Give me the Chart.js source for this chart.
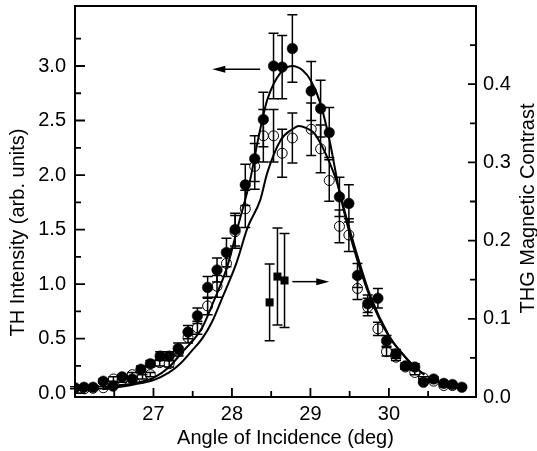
<!DOCTYPE html>
<html><head><meta charset="utf-8">
<script src="https://cdn.jsdelivr.net/npm/chart.js@4/dist/chart.umd.min.js"></script>
<style>html,body{margin:0;padding:0;background:#fff}</style>
</head><body>
<canvas id="c" width="537" height="451"></canvas>
<script>
// ---- data ----
const filledX = [26.00,26.115,26.23,26.36,26.485,26.60,26.73,26.84,26.96,27.085,27.20,27.315,27.44,27.56,27.69,27.81,27.93,28.04,28.17,28.29,28.40,28.53,28.64,28.77,29.01,29.13,29.24,29.37,29.49,29.60,29.73,29.86,29.97,30.09,30.21,30.33,30.44,30.57,30.70,30.81,30.93];
const filledY = [0.05,0.055,0.055,0.11,0.065,0.15,0.13,0.22,0.27,0.34,0.34,0.41,0.56,0.71,0.97,1.13,1.29,1.50,1.91,2.15,2.51,3.00,2.99,3.16,2.77,2.61,2.39,1.80,1.74,1.08,0.82,0.87,0.48,0.36,0.25,0.24,0.10,0.13,0.09,0.08,0.055];
const filledErr = [0.01,0.01,0.01,0.02,0.01,0.02,0.02,0.03,0.03,0.04,0.04,0.05,0.06,0.07,0.10,0.11,0.13,0.15,0.19,0.21,0.25,0.30,0.29,0.31,0.27,0.26,0.23,0.18,0.17,0.11,0.08,0.09,0.05,0.04,0.03,0.03,0.01,0.02,0.01,0.01,0.01];

const openX = [26.12,26.23,26.36,26.49,26.60,26.73,26.86,26.96,27.08,27.20,27.32,27.44,27.56,27.69,27.81,27.93,28.04,28.17,28.29,28.40,28.53,28.64,28.77,29.01,29.13,29.24,29.37,29.49,29.60,29.73,29.86,29.97,30.09,30.21,30.33,30.44,30.57,30.70,30.81];
const openY = [0.04,0.045,0.05,0.13,0.12,0.17,0.15,0.17,0.28,0.27,0.38,0.51,0.60,0.80,0.98,1.19,1.48,1.69,2.08,2.36,2.36,2.20,2.34,2.42,2.24,1.95,1.53,1.45,0.96,0.79,0.59,0.38,0.33,0.24,0.19,0.14,0.11,0.07,0.07];
const openErr = [0.01,0.01,0.01,0.02,0.02,0.02,0.02,0.02,0.03,0.03,0.04,0.05,0.06,0.08,0.10,0.12,0.15,0.17,0.21,0.24,0.24,0.22,0.23,0.24,0.22,0.19,0.15,0.15,0.10,0.08,0.06,0.04,0.03,0.02,0.02,0.01,0.01,0.01,0.01];

const squareX = [28.48,28.58,28.67];
const squareY = [0.121,0.154,0.149];
const squareErr = [0.049,0.062,0.060];

const fitAX = [26.35,26.5,26.75,27.0,27.2,27.37,27.5,27.62,27.76,27.94,28.08,28.23,28.34,28.45,28.62,28.77,28.9,29.01,29.13,29.24,29.37,29.54,29.77,30.0,30.15,30.3,30.45];
const fitAY = [0.04,0.065,0.09,0.14,0.24,0.38,0.48,0.60,0.83,1.16,1.54,1.95,2.35,2.69,2.94,3.00,2.96,2.86,2.65,2.33,1.85,1.36,0.86,0.52,0.38,0.26,0.17];
const fitBX = [26.35,26.5,26.75,27.0,27.2,27.34,27.49,27.62,27.75,27.88,28.06,28.2,28.36,28.45,28.62,28.77,28.85,28.95,29.04,29.13,29.24,29.33,29.5,29.77,30.0,30.15,30.3,30.45];
const fitBY = [0.035,0.05,0.08,0.12,0.19,0.27,0.39,0.50,0.66,0.88,1.20,1.52,1.77,2.02,2.32,2.42,2.45,2.43,2.39,2.29,2.12,1.95,1.50,0.88,0.53,0.38,0.26,0.17];

const xTicks = [27,28,29,30];
const xMinor = [26.5,27.5,28.5,29.5,30.5];
const leftTicks = [0,0.5,1.0,1.5,2.0,2.5,3.0];
const leftMinor = [0.25,0.75,1.25,1.75,2.25,2.75,3.25];
const rightTicks = [0,0.1,0.2,0.3,0.4];
const rightMinor = [0.05,0.15,0.25,0.35,0.45];

const xTitle = 'Angle of Incidence (deg)';
const yTitle = 'TH Intensity (arb. units)';
const y2Title = 'THG Magnetic Contrast';

const arrowLeft = {x1:28.36, x2:27.75, y:2.97, axis:'y'};
const arrowRight = {x1:28.77, x2:29.24, y:0.1475, axis:'y2'};

// ---- helpers ----
const pts = (xs, ys) => xs.map((x,i)=>({x:x, y:ys[i]}));
const FONT = 'Liberation Sans, Arial, Helvetica, sans-serif';

function drawErr(chart, xs, ys, es, axis){
  const ctx = chart.ctx, sx = chart.scales.x, sy = chart.scales[axis];
  ctx.save();
  ctx.strokeStyle = '#000'; ctx.lineWidth = 1.5;
  for (let i=0;i<xs.length;i++){
    const px = sx.getPixelForValue(xs[i]);
    const t = sy.getPixelForValue(ys[i]+es[i]);
    const b = sy.getPixelForValue(ys[i]-es[i]);
    ctx.beginPath();
    ctx.moveTo(px,t); ctx.lineTo(px,b);
    ctx.moveTo(px-5,t); ctx.lineTo(px+5,t);
    ctx.moveTo(px-5,b); ctx.lineTo(px+5,b);
    ctx.stroke();
  }
  ctx.restore();
}
function drawArrow(chart, a){
  const ctx = chart.ctx, sx = chart.scales.x, sy = chart.scales[a.axis];
  const x1 = sx.getPixelForValue(a.x1), x2 = sx.getPixelForValue(a.x2), y = sy.getPixelForValue(a.y);
  const dir = Math.sign(x2-x1);
  ctx.save();
  ctx.strokeStyle='#000'; ctx.fillStyle='#000'; ctx.lineWidth=1.5;
  ctx.beginPath(); ctx.moveTo(x1,y); ctx.lineTo(x2-dir*8,y); ctx.stroke();
  ctx.beginPath(); ctx.moveTo(x2,y); ctx.lineTo(x2-dir*13,y-3.5); ctx.lineTo(x2-dir*13,y+3.5); ctx.closePath(); ctx.fill();
  ctx.restore();
}

const decor = {
  id:'decor',
  beforeDatasetDraw(chart, args){
    const ds = chart.data.datasets[args.index];
    if (ds.label==='filled') drawErr(chart, filledX, filledY, filledErr, 'y');
    if (ds.label==='square') drawErr(chart, squareX, squareY, squareErr, 'y2');
  },
  afterDatasetDraw(chart, args){
    const ds = chart.data.datasets[args.index];
    if (ds.label==='open') drawErr(chart, openX, openY, openErr, 'y');
  },
  afterDraw(chart){
    const {ctx, chartArea:a, scales} = chart;
    ctx.save();
    ctx.strokeStyle='#000'; ctx.lineWidth=2;
    ctx.strokeRect(a.left, a.top, a.right-a.left, a.bottom-a.top);
    ctx.lineWidth=1.8;
    ctx.beginPath();
    const tx = (vals, len)=>vals.forEach(v=>{const p=scales.x.getPixelForValue(v); ctx.moveTo(p,a.bottom); ctx.lineTo(p,a.bottom-len);});
    const tl = (vals, len)=>vals.forEach(v=>{const p=scales.y.getPixelForValue(v); ctx.moveTo(a.left,p); ctx.lineTo(a.left+len,p);});
    const tr = (vals, len)=>vals.forEach(v=>{const p=scales.y2.getPixelForValue(v); ctx.moveTo(a.right,p); ctx.lineTo(a.right-len,p);});
    tx(xTicks,9); tx(xMinor,6);
    tl(leftTicks,10); tl(leftMinor,6);
    tr(rightTicks,8); tr(rightMinor,6);
    ctx.stroke();
    // axis titles
    ctx.fillStyle='#000';
    ctx.font = '20px ' + FONT;
    ctx.textAlign='center'; ctx.textBaseline='middle';
    ctx.fillText(xTitle, (a.left+a.right)/2 + 10, a.bottom + 41);
    ctx.save(); ctx.translate(a.left - 57, (a.top+a.bottom)/2 + 31); ctx.rotate(-Math.PI/2);
    ctx.fillText(yTitle, 0, 0); ctx.restore();
    ctx.save(); ctx.translate(a.right + 52, (a.top+a.bottom)/2 + 7); ctx.rotate(-Math.PI/2);
    ctx.fillText(y2Title, 0, 0); ctx.restore();
    ctx.restore();
    drawArrow(chart, arrowLeft);
    drawArrow(chart, arrowRight);
  }
};

const tickFont = {family: FONT, size: 20};
const noPadV = s => { s.paddingTop = 0; s.paddingBottom = 0; };
const noPadH = s => { s.paddingLeft = 0; s.paddingRight = 0; };

new Chart(document.getElementById('c'), {
  type: 'scatter',
  data: {
    datasets: [
      {label:'fitA', type:'line', data: pts(fitAX, fitAY), yAxisID:'y', borderColor:'#000', borderWidth:2, pointRadius:0, cubicInterpolationMode:'monotone', fill:false, order:0},
      {label:'fitB', type:'line', data: pts(fitBX, fitBY), yAxisID:'y', borderColor:'#000', borderWidth:2, pointRadius:0, cubicInterpolationMode:'monotone', fill:false, order:0},
      {label:'filled', data: pts(filledX, filledY), yAxisID:'y', pointRadius:5.3, pointBackgroundColor:'#000', pointBorderColor:'#000', pointBorderWidth:0.5, order:1},
      {label:'open', data: pts(openX, openY), yAxisID:'y', pointRadius:5, pointBackgroundColor:'#fff', pointBorderColor:'#000', pointBorderWidth:1, order:2},
      {label:'square', data: pts(squareX, squareY), yAxisID:'y2', pointStyle:'rect', pointRadius:5.7, pointBackgroundColor:'#000', pointBorderColor:'#000', pointBorderWidth:0, order:1}
    ]
  },
  options: {
    responsive:false, animation:false, devicePixelRatio:1,
    layout:{padding:{top:6,left:0,right:0,bottom:0}},
    plugins:{legend:{display:false}, tooltip:{enabled:false}},
    scales:{
      x:{type:'linear', min:26, max:31.11,
        afterBuildTicks: s=>{ s.ticks = xTicks.map(v=>({value:v})); },
        afterFit: s=>{ s.height = 54; noPadH(s); },
        grid:{display:false, drawTicks:false}, border:{display:false},
        ticks:{font:tickFont, color:'#000', padding:5, maxRotation:0, callback:v=>String(v)},
        title:{display:false}
      },
      y:{type:'linear', position:'left', min:-0.035, max:3.55,
        afterBuildTicks: s=>{ s.ticks = leftTicks.map(v=>({value:v})); },
        afterFit: s=>{ s.width = 75; noPadV(s); },
        grid:{display:false, drawTicks:false}, border:{display:false},
        ticks:{font:tickFont, color:'#000', padding:9, callback:v=>Number(v).toFixed(1)},
        title:{display:false}
      },
      y2:{type:'linear', position:'right', min:0, max:0.5,
        afterBuildTicks: s=>{ s.ticks = rightTicks.map(v=>({value:v})); },
        afterFit: s=>{ s.width = 61; noPadV(s); },
        grid:{display:false, drawTicks:false}, border:{display:false},
        ticks:{font:tickFont, color:'#000', padding:7, callback:v=>Number(v).toFixed(1)},
        title:{display:false}
      }
    }
  },
  plugins:[decor]
});
</script>
</body></html>
